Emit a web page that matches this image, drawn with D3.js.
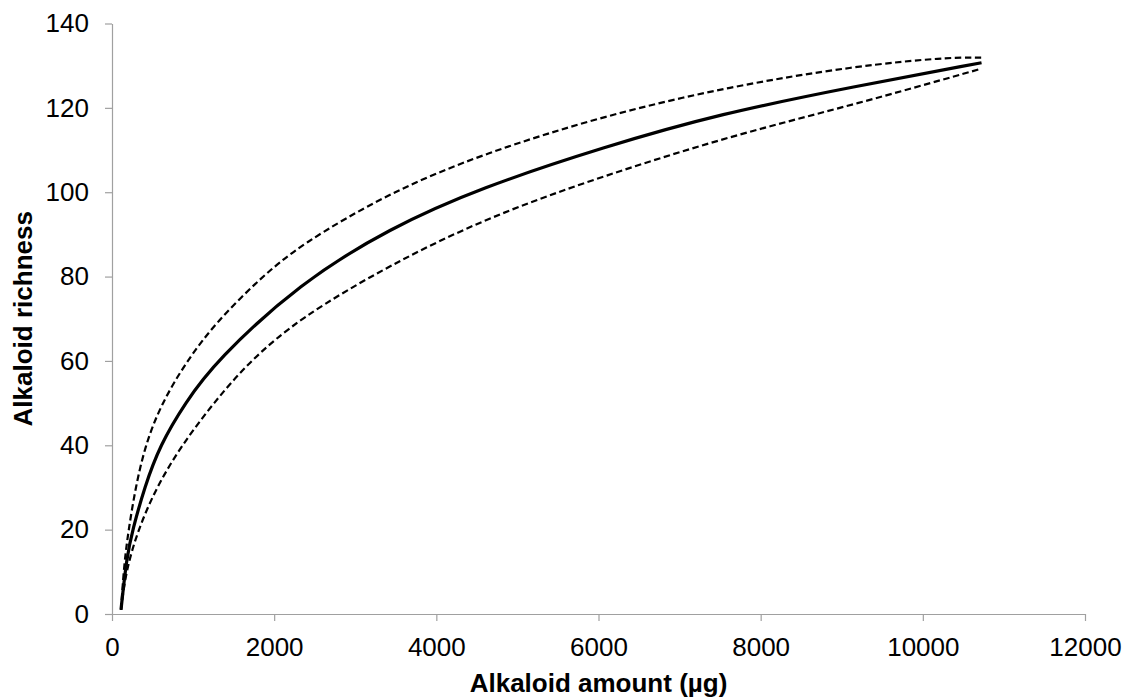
<!DOCTYPE html>
<html>
<head>
<meta charset="utf-8">
<script src="https://cdn.jsdelivr.net/npm/d3@7"></script>
<style>
  html, body { margin: 0; padding: 0; background: #fff; }
  svg { display: block; font-family: "Liberation Sans", Arial, sans-serif; }
</style>
</head>
<body>
<svg id="chart" width="1128" height="700"></svg>
<script>
// ---- data ----
const xTicks = [0, 2000, 4000, 6000, 8000, 10000, 12000];
const yTicks = [0, 20, 40, 60, 80, 100, 120, 140];

const meanX = [111, 181, 255, 400, 591, 900, 1282, 2318, 3428, 4538, 6079, 7497, 9162, 10724];
const meanY = [1, 13.5, 20, 30, 40, 50, 60, 78.5, 91.5, 101, 110.8, 118.6, 125.1, 130.7];

const upperX = [111, 150, 205, 290, 410, 600, 920, 1300, 1824, 2318, 3428, 4600, 6079, 7620, 9162, 10300, 10724];
const upperY = [1, 12, 20, 30, 40, 49.5, 60, 69.5, 79.5, 87.5, 100, 109.3, 118.2, 125.1, 129.9, 132, 131.9];

const lowerX = [111, 170, 320, 560, 860, 1250, 1700, 2318, 3428, 4661, 6079, 7620, 9162, 10724];
const lowerY = [1, 10, 20, 30.5, 40, 50, 60, 70.2, 82.8, 94.3, 104, 113.3, 120.8, 129.3];

const xTitle = "Alkaloid amount (µg)";
const yTitle = "Alkaloid richness";

(function () {
  // ---- layout ----
  const svg = d3.select("#chart");
  const mLeft = 112, mRight = 1085, mTop = 23.5, mBottom = 614;

  const x = d3.scaleLinear().domain([0, 12000]).range([mLeft, mRight]);
  const y = d3.scaleLinear().domain([0, 140]).range([mBottom, mTop]);

  const axisColor = "#a0a0a0";

  const gx = svg.append("g")
    .attr("transform", `translate(0,${mBottom})`)
    .call(d3.axisBottom(x).tickValues(xTicks).tickFormat(d3.format("d"))
      .tickSize(7).tickSizeOuter(0).tickPadding(17));
  const gy = svg.append("g")
    .attr("transform", `translate(${mLeft},0)`)
    .call(d3.axisLeft(y).tickValues(yTicks).tickFormat(d3.format("d"))
      .tickSize(7).tickSizeOuter(0).tickPadding(16));

  [gx, gy].forEach(g => {
    g.select(".domain").attr("stroke", axisColor).attr("stroke-width", 1.2);
    g.selectAll(".tick line").attr("stroke", axisColor).attr("stroke-width", 1.2);
    g.selectAll(".tick text").attr("fill", "#000")
      .style("font-size", "26px")
      .style("font-family", "'Liberation Sans', Arial, sans-serif");
  });

  // ---- lines ----
  const line = d3.line()
    .x(d => x(d[0]))
    .y(d => y(d[1]))
    .curve(d3.curveBasis);

  const zip = (a, b) => a.map((v, i) => [v, b[i]]);

  svg.append("path")
    .datum(zip(upperX, upperY))
    .attr("d", line)
    .attr("fill", "none")
    .attr("stroke", "#000")
    .attr("stroke-width", 2.2)
    .attr("stroke-dasharray", "6.5,3.5");

  svg.append("path")
    .datum(zip(lowerX, lowerY))
    .attr("d", line)
    .attr("fill", "none")
    .attr("stroke", "#000")
    .attr("stroke-width", 2.2)
    .attr("stroke-dasharray", "6.5,3.5");

  svg.append("path")
    .datum(zip(meanX, meanY))
    .attr("d", line)
    .attr("fill", "none")
    .attr("stroke", "#000")
    .attr("stroke-width", 3.2);

  // ---- titles ----
  svg.append("text")
    .attr("x", (mLeft + mRight) / 2)
    .attr("y", 692)
    .attr("text-anchor", "middle")
    .style("font-size", "26px")
    .style("font-weight", "bold")
    .text(xTitle);

  svg.append("text")
    .attr("transform", `translate(32,${(mTop + mBottom) / 2}) rotate(-90)`)
    .attr("text-anchor", "middle")
    .style("font-size", "26px")
    .style("font-weight", "bold")
    .text(yTitle);
})();
</script>
</body>
</html>
